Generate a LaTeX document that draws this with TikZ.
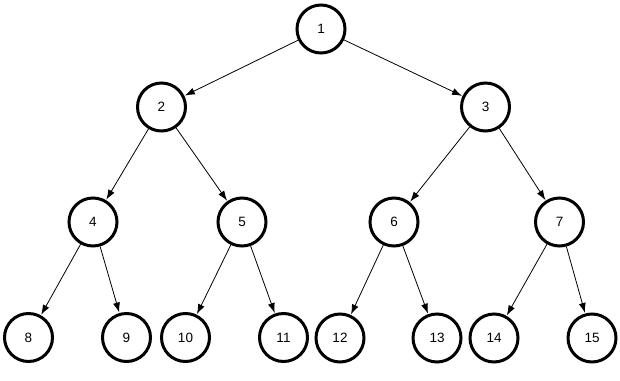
\documentclass[tikz,border=0pt]{standalone}
\usepackage{fontspec}
\setmainfont{Liberation Sans}
\usetikzlibrary{arrows.meta}
\begin{document}
\begin{tikzpicture}[x=1pt,y=-1pt,
  tnode/.style={circle,draw=black,line width=3pt,minimum size=48pt,inner sep=0pt,font=\fontsize{13.5}{15}\selectfont,text=black},
  edge/.style={line width=0.8pt,-{Latex[length=10pt,width=7pt]},shorten >=0.5pt}]
\useasboundingbox[fill=white] (0,0) rectangle (620,380);
\node[tnode] (n1) at (321,29) {1};
\node[tnode] (n2) at (161.5,107) {2};
\node[tnode] (n3) at (485.5,107) {3};
\node[tnode] (n4) at (93,222) {4};
\node[tnode] (n5) at (242,222) {5};
\node[tnode] (n6) at (394,222) {6};
\node[tnode] (n7) at (559.5,222) {7};
\node[tnode] (n8) at (28.5,337.5) {8};
\node[tnode] (n9) at (126.5,337.5) {9};
\node[tnode] (n10) at (185.5,337.5) {10};
\node[tnode] (n11) at (283.5,337.5) {11};
\node[tnode] (n12) at (340,338) {12};
\node[tnode] (n13) at (437,338) {13};
\node[tnode] (n14) at (494,338) {14};
\node[tnode] (n15) at (592,338) {15};
\draw[edge] (n1) -- (n2);
\draw[edge] (n1) -- (n3);
\draw[edge] (n2) -- (n4);
\draw[edge] (n2) -- (n5);
\draw[edge] (n3) -- (n6);
\draw[edge] (n3) -- (n7);
\draw[edge] (n4) -- (n8);
\draw[edge] (n4) -- (n9);
\draw[edge] (n5) -- (n10);
\draw[edge] (n5) -- (n11);
\draw[edge] (n6) -- (n12);
\draw[edge] (n6) -- (n13);
\draw[edge] (n7) -- (n14);
\draw[edge] (n7) -- (n15);
\end{tikzpicture}
\end{document}
